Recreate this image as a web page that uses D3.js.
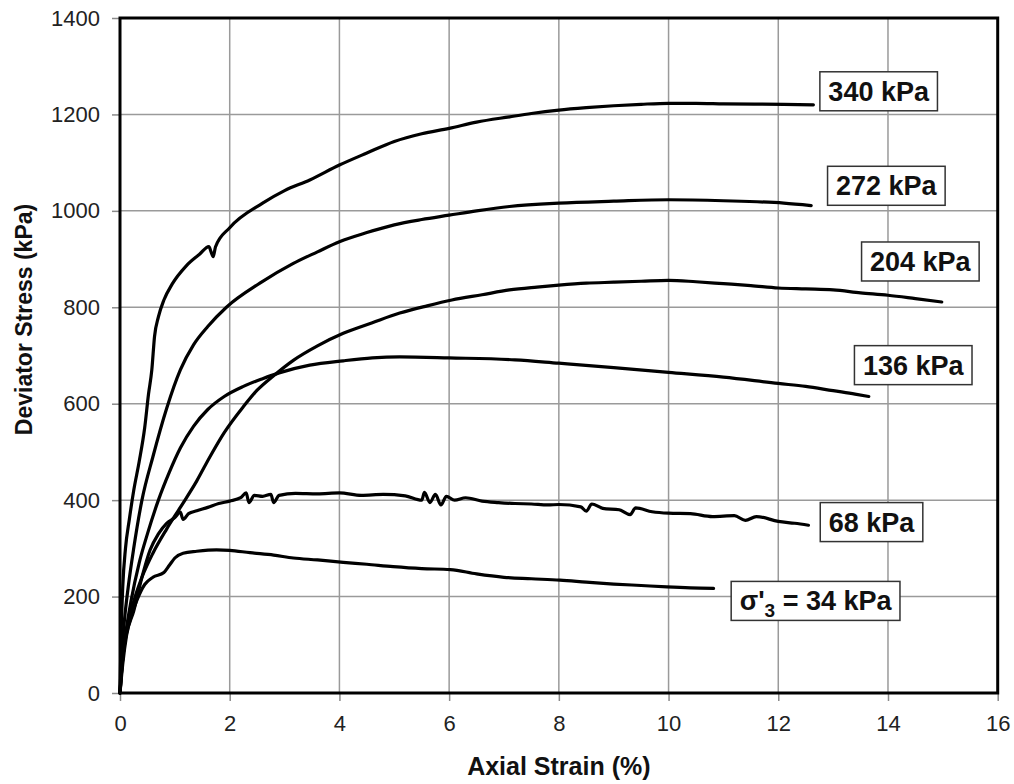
<!DOCTYPE html>
<html>
<head>
<meta charset="utf-8">
<script src="https://cdn.jsdelivr.net/npm/d3@7"></script>
<style>
  html, body { margin: 0; padding: 0; background: #fff; }
  svg { display: block; font-family: "Liberation Sans", Arial, sans-serif; }
</style>
</head>
<body>
<svg id="chart" width="1014" height="784"></svg>
<script>
// ---- data (strain %, deviator stress kPa) ----
const xTicks = [0, 2, 4, 6, 8, 10, 12, 14, 16];
const yTicks = [0, 200, 400, 600, 800, 1000, 1200, 1400];
const xTitle = "Axial Strain (%)";
const yTitle = "Deviator Stress (kPa)";

const curve340 = [[0,0],[0.02,120],[0.05,220],[0.1,300],[0.17,360],[0.25,420],[0.35,480],[0.45,550],[0.52,620],[0.58,670],[0.63,740],[0.7,780],[0.8,815],[0.95,848],[1.2,885],[1.45,910],[1.62,926],[1.66,915],[1.7,905],[1.74,925],[2.0,965],[2.6,1016],[3.0,1042],[3.46,1064],[4.0,1095],[4.5,1120],[5.0,1144],[5.5,1160],[6.0,1171],[6.5,1184],[7.1,1195],[7.5,1202],[8.0,1209],[8.5,1214],[9.0,1218],[9.5,1221],[10.0,1223],[10.5,1223],[11.0,1222],[12.1,1221],[12.64,1220]];
const curve272 = [[0,0],[0.03,80],[0.08,150],[0.15,220],[0.25,300],[0.4,400],[0.6,490],[0.85,590],[1.1,670],[1.34,722],[1.6,760],[1.94,800],[2.55,850],[3.16,891],[3.6,915],[4.0,936],[4.5,955],[5.0,971],[5.5,982],[6.0,991],[6.5,1000],[7.1,1009],[8.0,1016],[9.0,1020],[10.0,1023],[11.0,1021],[12.1,1016],[12.6,1011]];
const curve204 = [[0,0],[0.04,60],[0.12,130],[0.25,190],[0.4,240],[0.6,290],[0.85,340],[1.1,385],[1.4,440],[1.64,490],[1.9,540],[2.25,594],[2.5,628],[2.8,658],[3.16,690],[3.6,720],[4.07,746],[4.6,768],[5.1,788],[5.6,803],[6.05,815],[6.6,826],[7.1,836],[7.6,842],[8.0,846],[8.5,850],[9.0,852],[9.5,854],[10.0,856],[10.5,853],[11.0,849],[11.5,845],[12.0,840],[12.5,838],[13.0,836],[13.5,830],[14.0,825],[14.5,818],[14.98,811]];
const curve136 = [[0,0],[0.04,60],[0.1,120],[0.2,190],[0.35,270],[0.5,330],[0.7,400],[0.9,458],[1.1,508],[1.34,553],[1.6,588],[1.9,615],[2.25,636],[2.6,652],[2.9,664],[3.46,680],[4.07,689],[4.6,695],[5.1,697],[6.0,695],[7.2,691],[8.0,684],[9.0,675],[10.0,665],[11.0,655],[12.0,642],[12.5,636],[13.0,627],[13.4,620],[13.65,615]];
const curve68 = [[0,0],[0.05,60],[0.12,120],[0.25,170],[0.4,240],[0.55,297],[0.7,330],[0.85,352],[1.0,364],[1.1,375],[1.15,360],[1.25,372],[1.4,378],[1.6,385],[1.8,393],[2.0,398],[2.2,405],[2.3,415],[2.35,395],[2.45,410],[2.6,408],[2.75,412],[2.8,395],[2.9,410],[3.2,414],[3.6,413],[4.0,415],[4.4,410],[4.8,412],[5.2,409],[5.5,400],[5.55,416],[5.65,395],[5.75,412],[5.85,390],[5.95,408],[6.1,400],[6.3,405],[6.6,398],[6.9,395],[7.2,393],[7.5,392],[7.8,390],[8.0,391],[8.4,386],[8.5,377],[8.6,392],[8.8,383],[9.1,380],[9.3,370],[9.4,384],[9.7,376],[10.0,373],[10.4,372],[10.8,366],[11.2,368],[11.4,358],[11.6,366],[12.0,356],[12.3,352],[12.55,348]];
const curve34 = [[0,0],[0.03,50],[0.08,100],[0.18,150],[0.3,190],[0.45,225],[0.6,240],[0.8,250],[0.9,265],[1.0,280],[1.15,290],[1.4,294],[1.76,297],[2.0,296],[2.37,291],[2.8,286],[3.16,280],[3.6,276],[4.07,271],[4.5,267],[4.98,262],[5.5,258],[6.02,256],[6.5,247],[7.0,240],[7.5,237],[8.02,234],[8.5,230],[9.0,226],[9.5,223],[9.97,220],[10.4,218],[10.82,217]];

const seriesCurves = [curve340, curve272, curve204, curve136, curve68, curve34];
const seriesNames = ["340 kPa", "272 kPa", "204 kPa", "136 kPa", "68 kPa", "34 kPa"];
// label box anchors (data coordinates: strain, stress)
const labelStrain = [13.83, 13.97, 14.59, 14.46, 13.70, 12.68];
const labelStress = [1248, 1052, 895, 680, 354.5, 191];

// ---- layout ----
const svg = d3.select("#chart");
const pLeft = 120, pRight = 997.7, pTop = 18, pBottom = 693;
const x = d3.scaleLinear().domain([0, 16]).range([pLeft, pRight]);
const y = d3.scaleLinear().domain([0, 1400]).range([pBottom, pTop]);

// gridlines
const grid = svg.append("g");
grid.selectAll("line.gx").data(xTicks.slice(1, -1)).join("line")
  .attr("x1", d => x(d)).attr("x2", d => x(d))
  .attr("y1", pTop).attr("y2", pBottom)
  .attr("stroke", "#9a9a9a").attr("stroke-width", 1.5);
grid.selectAll("line.gy").data(yTicks.slice(1, -1)).join("line")
  .attr("x1", pLeft).attr("x2", pRight)
  .attr("y1", d => y(d)).attr("y2", d => y(d))
  .attr("stroke", "#9a9a9a").attr("stroke-width", 1.5);

// axes
const xAxis = d3.axisBottom(x).tickValues(xTicks).tickSize(8).tickPadding(14).tickFormat(d3.format("d"));
const yAxis = d3.axisLeft(y).tickValues(yTicks).tickSize(8).tickPadding(12).tickFormat(d3.format("d"));
const gx = svg.append("g").attr("transform", `translate(0,${pBottom})`).call(xAxis);
const gy = svg.append("g").attr("transform", `translate(${pLeft},0)`).call(yAxis);
[gx, gy].forEach(g => {
  g.select(".domain").remove();
  g.selectAll(".tick line").attr("stroke", "#8a8a8a").attr("stroke-width", 1.5);
  g.selectAll(".tick text").attr("fill", "#222").style("font-size", "22px")
    .style("font-family", "'Liberation Sans', Arial, sans-serif");
});

// curves
const line = d3.line().curve(d3.curveMonotoneX).x(d => x(d[0])).y(d => y(d[1]));
svg.append("g").selectAll("path").data(seriesCurves).join("path")
  .attr("d", line)
  .attr("fill", "none").attr("stroke", "#000").attr("stroke-width", 3.2)
  .attr("stroke-linejoin", "round").attr("stroke-linecap", "round");

// frame
svg.append("rect").attr("x", pLeft).attr("y", pTop)
  .attr("width", pRight - pLeft).attr("height", pBottom - pTop)
  .attr("fill", "none").attr("stroke", "#000").attr("stroke-width", 3);

// labels
const labels = svg.append("g");
seriesNames.forEach((name, i) => {
  const cx = x(labelStrain[i]), cy = y(labelStress[i]);
  const g = labels.append("g");
  const rect = g.append("rect");
  const t = g.append("text")
    .attr("x", cx).attr("y", cy + 9.5)
    .attr("text-anchor", "middle")
    .attr("fill", "#111")
    .style("font-size", "27px").style("font-weight", "bold");
  if (i === seriesNames.length - 1) {
    t.append("tspan").text("σ'");
    t.append("tspan").text("3").attr("dy", 7).style("font-size", "19px");
    t.append("tspan").text(" = " + name).attr("dy", -7);
  } else {
    t.text(name);
  }
  const bb = t.node().getBBox();
  const w = bb.width + 16, h = 39;
  rect.attr("x", cx - w / 2).attr("y", cy - h / 2)
    .attr("width", w).attr("height", h)
    .attr("fill", "#fff").attr("stroke", "#333").attr("stroke-width", 1.5);
});

// axis titles
svg.append("text")
  .attr("x", (pLeft + pRight) / 2).attr("y", 775)
  .attr("text-anchor", "middle").attr("fill", "#111")
  .style("font-size", "25px").style("font-weight", "bold")
  .text(xTitle);
svg.append("text")
  .attr("transform", `translate(32,${(pTop + pBottom) / 2 - 36}) rotate(-90)`)
  .attr("text-anchor", "middle").attr("fill", "#111")
  .style("font-size", "23px").style("font-weight", "bold")
  .text(yTitle);
</script>
</body>
</html>
